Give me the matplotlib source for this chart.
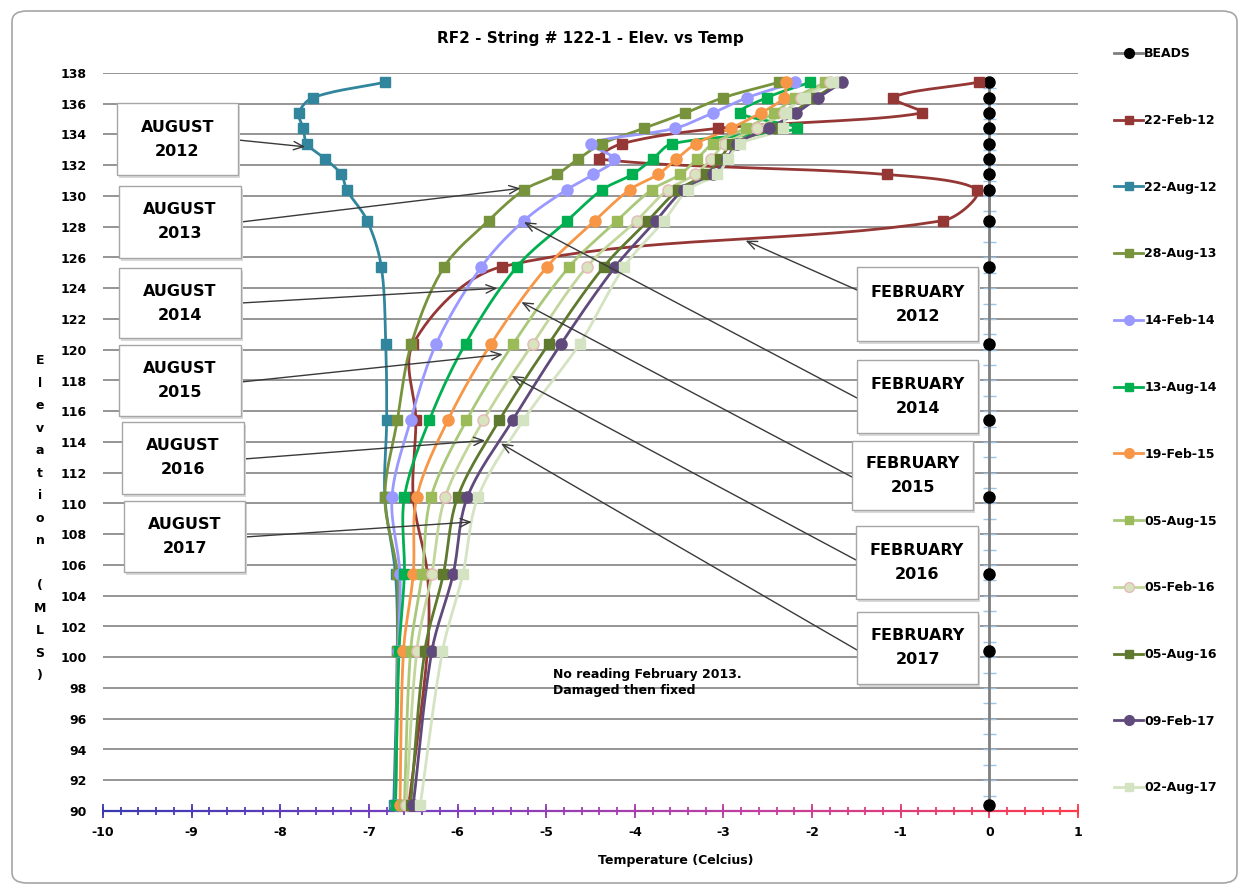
import numpy as np
import matplotlib
matplotlib.use("Agg")
import matplotlib.pyplot as plt
from matplotlib.collections import LineCollection
from matplotlib.colors import LinearSegmentedColormap
from matplotlib.patches import FancyBboxPatch, Rectangle

plt.rcParams['font.family'] = ['DejaVu Sans']
plt.rcParams['font.weight'] = 'bold'
plt.rcParams['axes.unicode_minus'] = False

# bead elevations (MLS)
elev = [137.4, 136.4, 135.4, 134.4, 133.4, 132.4, 131.4, 130.4, 128.4, 125.4,
        120.4, 115.4, 110.4, 105.4, 100.4, 90.4]

beads = [0.0] * 16
feb12 = [-0.12, -1.09, -0.76, -3.06, -4.15, -4.40, -1.16, -0.14, -0.52, -5.50,
         -6.50, -6.47, -6.50, -6.34, -6.34, -6.55]
aug12 = [-6.82, -7.63, -7.79, -7.74, -7.70, -7.49, -7.31, -7.25, -7.02, -6.86,
         -6.81, -6.80, -6.82, -6.70, -6.68, -6.72]
aug13 = [-2.37, -3.00, -3.43, -3.90, -4.37, -4.64, -4.88, -5.25, -5.65, -6.15,
         -6.52, -6.68, -6.82, -6.68, -6.68, -6.70]
feb14 = [-2.19, -2.73, -3.12, -3.55, -4.49, -4.23, -4.47, -4.77, -5.25, -5.73,
         -6.24, -6.53, -6.74, -6.65, -6.67, -6.70]
aug14 = [-2.02, -2.51, -2.81, -2.17, -3.58, -3.80, -4.03, -4.37, -4.76, -5.33,
         -5.91, -6.32, -6.60, -6.60, -6.66, -6.70]
feb15 = [-2.29, -2.32, -2.58, -2.92, -3.31, -3.53, -3.74, -4.06, -4.45, -4.99,
         -5.62, -6.11, -6.46, -6.50, -6.61, -6.65]
aug15 = [-1.85, -2.19, -2.43, -2.75, -3.12, -3.30, -3.49, -3.81, -4.20, -4.74,
         -5.37, -5.90, -6.30, -6.40, -6.53, -6.60]
feb16 = [-1.80, -2.13, -2.32, -2.62, -2.98, -3.14, -3.32, -3.63, -3.98, -4.54,
         -5.15, -5.71, -6.14, -6.29, -6.46, -6.58]
aug16 = [-1.68, -1.97, -2.22, -2.45, -2.90, -3.04, -3.20, -3.51, -3.85, -4.35,
         -4.97, -5.53, -6.00, -6.16, -6.37, -6.53]
feb17 = [-1.66, -1.93, -2.18, -2.49, -2.85, -2.96, -3.12, -3.45, -3.76, -4.22,
         -4.83, -5.38, -5.89, -6.05, -6.29, -6.50]
aug17 = [-1.76, -2.08, -2.30, -2.33, -2.81, -2.95, -3.07, -3.40, -3.67, -4.12,
         -4.62, -5.26, -5.77, -5.94, -6.17, -6.42]

labels = ['BEADS', '22-Feb-12', '22-Aug-12', '28-Aug-13', '14-Feb-14', '13-Aug-14',
          '19-Feb-15', '05-Aug-15', '05-Feb-16', '05-Aug-16', '09-Feb-17', '02-Aug-17']
values = [beads, feb12, aug12, aug13, feb14, aug14, feb15, aug15, feb16, aug16, feb17, aug17]
# (line colour, marker, marker face, marker edge)
styles = [
    ('#7f7f7f', 'o', '#000000', '#000000'),
    ('#953735', 's', '#953735', '#953735'),
    ('#31859c', 's', '#31859c', '#31859c'),
    ('#77933c', 's', '#77933c', '#77933c'),
    ('#9999ff', 'o', '#9999ff', '#9999ff'),
    ('#00b050', 's', '#00b050', '#00b050'),
    ('#f79646', 'o', '#f79646', '#f79646'),
    ('#a9c87a', 's', '#9bbb59', '#9bbb59'),
    ('#c3d69b', 'o', '#d7e4bd', '#e6b9b8'),
    ('#5f7a2e', 's', '#5f7a2e', '#5f7a2e'),
    ('#604a7b', 'o', '#604a7b', '#604a7b'),
    ('#d4e3c2', 's', '#d4e3c2', '#d4e3c2'),
]

# annotation boxes: text, box (left, top, right, bottom) in image px, arrow start y px, arrow target (temp, elev)
notes = [
    ('AUGUST\n2012', (117, 103, 238, 175), 140, (-7.72, 133.2)),
    ('AUGUST\n2013', (119, 186, 241, 258), 222, (-5.29, 130.5)),
    ('AUGUST\n2014', (119, 268, 241, 338), 303, (-5.55, 124.0)),
    ('AUGUST\n2015', (119, 345, 241, 416), 382, (-5.49, 119.7)),
    ('AUGUST\n2016', (122, 422, 244, 494), 459, (-5.69, 114.1)),
    ('AUGUST\n2017', (124, 501, 245, 572), 537, (-5.84, 108.8)),
    ('FEBRUARY\n2012', (857, 267, 978, 341), 290, (-2.75, 127.1)),
    ('FEBRUARY\n2014', (857, 360, 978, 433), 398, (-5.25, 128.3)),
    ('FEBRUARY\n2015', (852, 441, 973, 510), 477, (-5.28, 123.1)),
    ('FEBRUARY\n2016', (856, 526, 978, 599), 560, (-5.39, 118.3)),
    ('FEBRUARY\n2017', (857, 612, 978, 684), 650, (-5.51, 113.9)),
]

W, H = 1241, 888
SX, SY = 88.6, 15.375


def smooth(xs, ys, n=16):
    # bezier smoothing like the spreadsheet, control length scaled by segment length
    P = np.column_stack([np.array(xs) * SX, np.array(ys) * SY])
    P = np.vstack([P[0], P, P[-1]])
    out = []
    t = np.linspace(0, 1, n, endpoint=False)[:, None]
    for i in range(1, len(P) - 2):
        p0, p1, p2, p3 = P[i - 1], P[i], P[i + 1], P[i + 2]
        d01 = np.hypot(*(p1 - p0)); d12 = np.hypot(*(p2 - p1)); d23 = np.hypot(*(p3 - p2))
        c1 = p1 + (p2 - p0) * d12 / max(d01 + d12, 1e-9) / 3
        c2 = p2 - (p3 - p1) * d12 / max(d12 + d23, 1e-9) / 3
        out.append((1 - t) ** 3 * p1 + 3 * (1 - t) ** 2 * t * c1 + 3 * (1 - t) * t ** 2 * c2 + t ** 3 * p2)
    out.append(P[-2][None])
    out = np.vstack(out)
    return out[:, 0] / SX, out[:, 1] / SY


def fx(px):
    return px / W


def fy(py):
    return 1 - py / H


fig = plt.figure(figsize=(W / 100, H / 100), dpi=100)
fig.patches.append(FancyBboxPatch((fx(12), fy(883)), fx(1237) - fx(12), fy(11) - fy(883),
                                  boxstyle='round,pad=0,rounding_size=0.012',
                                  transform=fig.transFigure, fill=False, ec='#a6a6a6', lw=1.2))

ax = fig.add_axes([fx(103), fy(811), fx(1078) - fx(103), fy(73) - fy(811)])
ax.set_xlim(-10, 1)
ax.set_ylim(90, 138)
for s in ax.spines.values():
    s.set_visible(False)
ax.set_yticks(np.arange(90, 139, 2))
ax.set_xticks(np.arange(-10, 2, 1))
ax.yaxis.grid(True, color='#8c8c8c', lw=1.3)
ax.set_axisbelow(True)
ax.tick_params(axis='y', length=0, pad=12, labelsize=9)
ax.tick_params(axis='x', length=0, pad=11, labelsize=9)
for lab in ax.get_xticklabels() + ax.get_yticklabels():
    lab.set_fontweight('bold')

# light blue ticks on the vertical axis at x = 0
ax.hlines(np.arange(91, 138, 1), -0.07, 0.07, color='#9dc3e6', lw=1, zorder=2)

# gradient horizontal axis with ticks
cmap = LinearSegmentedColormap.from_list('ax', ['#3a3ab0', '#7a3fc0', '#c03fa0', '#ff3b4a'])
gx = np.linspace(-10, 1, 300)
segs = np.stack([np.column_stack([gx[:-1], np.full(299, 90)]),
                 np.column_stack([gx[1:], np.full(299, 90)])], axis=1)
lc = LineCollection(segs, cmap=cmap, lw=1.6, clip_on=False, zorder=3)
lc.set_array((gx[:-1] + 10) / 11)
lc.set_clim(0, 1)
ax.add_collection(lc)
tick_tr = ax.get_xaxis_transform()
minor = np.arange(-10, 1.001, 0.2)
major = np.arange(-10, 1.001, 1)
tsegs = [[(x, -0.005), (x, 0.005)] for x in minor] + [[(x, -0.009), (x, 0.009)] for x in major]
tcols = [cmap((x + 10) / 11) for x in minor] + [cmap((x + 10) / 11) for x in major]
ax.add_collection(LineCollection(tsegs, colors=tcols, lw=1.3, transform=tick_tr, clip_on=False, zorder=3))

handles = []
for lab, vals, (lc_, mk, mf, me) in zip(labels, values, styles):
    sx, sy = smooth(vals, elev)
    ms = 8 if mk == 'o' else 7
    ax.plot(sx, sy, color=lc_, lw=2, zorder=4, clip_on=False)
    ax.plot(vals, elev, ls='none', marker=mk, ms=ms, mfc=mf, mec=me, mew=1, zorder=5, clip_on=False)
    h, = plt.plot([], [], color=lc_, lw=2, marker=mk, ms=ms - 1, mfc=mf, mec=me, mew=1)
    handles.append(h)

fig.legend(handles, labels, loc='upper left', bbox_to_anchor=(fx(1103), fy(36)),
           frameon=False, handlelength=2.3, handletextpad=0.1, labelspacing=4.3,
           numpoints=1, prop={'weight': 'bold', 'size': 9})

fig.text(fx(590), fy(38), 'RF2 - String # 122-1 - Elev. vs Temp', ha='center', va='center',
         fontsize=11, fontweight='bold')
fig.text(fx(676), fy(860), 'Temperature (Celcius)', ha='center', va='center',
         fontsize=9, fontweight='bold')
fig.text(fx(40), fy(518), '\n'.join('Elevation (MLS)'), ha='center', va='center',
         fontsize=9, fontweight='bold', linespacing=1.95)
fig.text(fx(553), fy(682), 'No reading February 2013.\nDamaged then fixed', ha='left', va='center',
         fontsize=9, fontweight='bold', linespacing=1.3)

for txt, (l, t, r, b), sy0, target in notes:
    start = r if txt.startswith('AUG') else l
    ax.annotate('', xy=target, xycoords='data', xytext=(fx(start), fy(sy0)), textcoords='figure fraction',
                arrowprops=dict(arrowstyle='->,head_length=0.7,head_width=0.3', color='#3a3a3a', lw=1,
                                shrinkA=0, shrinkB=0), zorder=6)
    fig.patches.append(Rectangle((fx(l) + 0.002, fy(b) - 0.003), fx(r) - fx(l), fy(t) - fy(b),
                                 transform=fig.transFigure, fc='#d9d9d9', ec='none', zorder=7))
    fig.patches.append(Rectangle((fx(l), fy(b)), fx(r) - fx(l), fy(t) - fy(b),
                                 transform=fig.transFigure, fc='white', ec='#a6a6a6', lw=1, zorder=8))
    fig.text((fx(l) + fx(r)) / 2, (fy(t) + fy(b)) / 2, txt, ha='center', va='center',
             fontsize=11.5, fontweight='bold', linespacing=1.75, zorder=9)

fig.savefig('out.png', dpi=100, facecolor='white')
